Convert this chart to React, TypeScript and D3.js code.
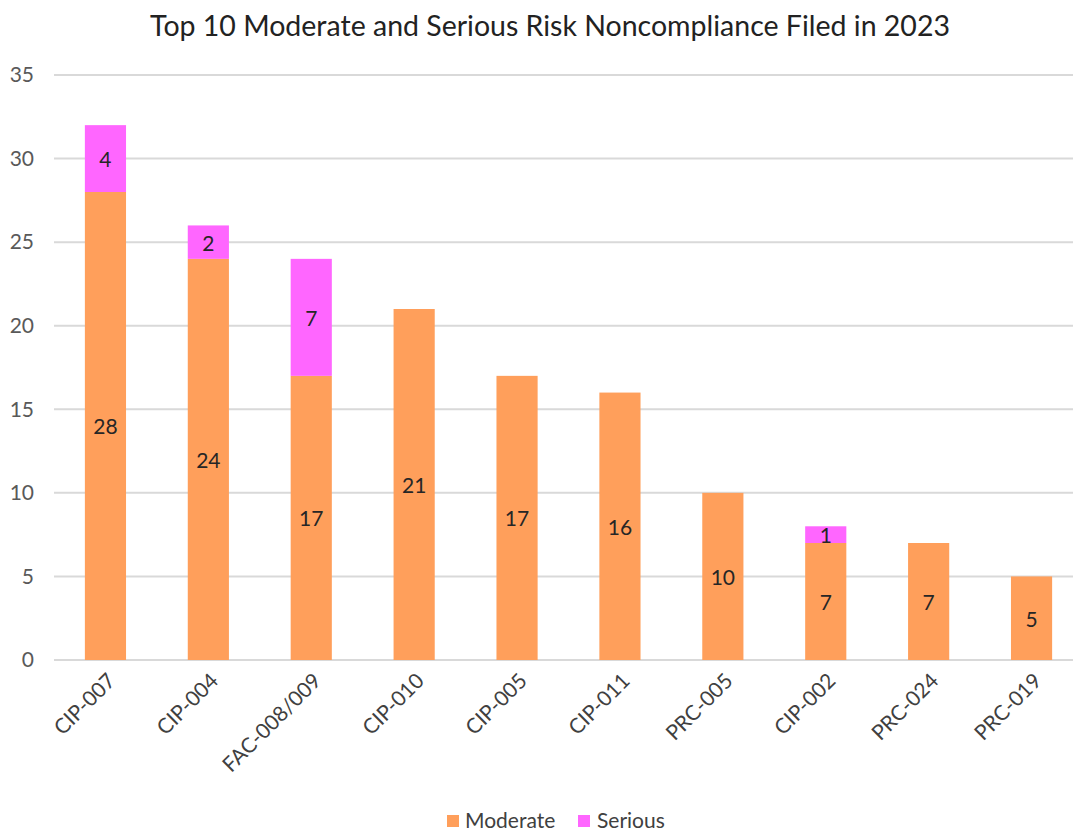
import React from "react";
import * as d3 from "d3";

const categories = ["CIP-007", "CIP-004", "FAC-008/009", "CIP-010", "CIP-005", "CIP-011", "PRC-005", "CIP-002", "PRC-024", "PRC-019"];
const moderate = [28, 24, 17, 21, 17, 16, 10, 7, 7, 5];
const serious = [4, 2, 7, 0, 0, 0, 0, 1, 0, 0];
const yTicks = [0, 5, 10, 15, 20, 25, 30, 35];
const seriesNames = ["Moderate", "Serious"];
const colors = ["#FF9F5B", "#FF66FF"];

const W = 1073;
const H = 831;
const FONT = "Lato, 'Open Sans', sans-serif";

export default function App() {
  const x = d3.scaleBand<string>().domain(categories).range([54, 1083]).paddingInner(0.6).paddingOuter(0.3);
  const y = d3.scaleLinear().domain([0, 35]).range([660, 75]);
  const rows = categories.map((c, i) => ({ cat: c, Moderate: moderate[i], Serious: serious[i] }));
  const stack = d3.stack<any>().keys(seriesNames)(rows);
  const bw = x.bandwidth();

  return (
    <svg width={W} height={H} style={{ position: "absolute", left: 0, top: 0, background: "#fff" }} fontFamily={FONT}>
      <text x={550} y={36} textAnchor="middle" fontSize={28.5} fill="#222">
        Top 10 Moderate and Serious Risk Noncompliance Filed in 2023
      </text>
      {yTicks.map((t) => (
        <g key={t}>
          <line x1={54} x2={W} y1={y(t)} y2={y(t)} stroke="#d9d9d9" strokeWidth={2} />
          <text x={34} y={y(t)} dy="0.35em" textAnchor="end" fontSize={21} fill="#595959">
            {t}
          </text>
        </g>
      ))}
      {stack.map((s, si) => (
        <g key={seriesNames[si]}>
          {s.map((d, i) => {
            const v = d[1] - d[0];
            if (v <= 0) return null;
            const x0 = x(categories[i])!;
            return (
              <g key={i}>
                <rect x={x0} y={y(d[1])} width={bw} height={y(d[0]) - y(d[1])} fill={colors[si]} />
                <text x={x0 + bw / 2} y={(y(d[0]) + y(d[1])) / 2} dy="0.4em" textAnchor="middle" fontSize={21} fill="#262626">
                  {v}
                </text>
              </g>
            );
          })}
        </g>
      ))}
      {categories.map((c) => {
        const cx = x(c)! + bw / 2 + 6;
        const cy = 677;
        return (
          <text key={c} transform={`translate(${cx},${cy}) rotate(-45)`} textAnchor="end" dy="0.35em" fontSize={21} fill="#404040">
            {c}
          </text>
        );
      })}
      <g>
        <rect x={447} y={815} width={12} height={12} fill={colors[0]} />
        <text x={465} y={821} dy="0.35em" fontSize={21} fill="#404040">Moderate</text>
        <rect x={578} y={815} width={12} height={12} fill={colors[1]} />
        <text x={597} y={821} dy="0.35em" fontSize={21} fill="#404040">Serious</text>
      </g>
    </svg>
  );
}
